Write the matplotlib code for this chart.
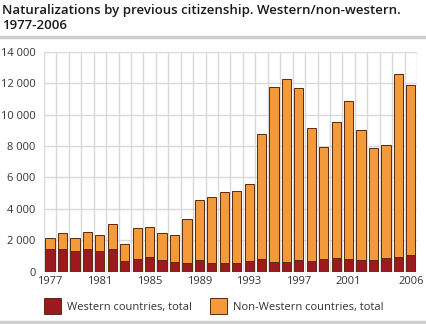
import matplotlib
matplotlib.use("Agg")
import matplotlib.pyplot as plt
from matplotlib.patches import Patch
from matplotlib.lines import Line2D
import numpy as np

years = list(range(1977, 2007))
western = [1420, 1420, 1320, 1420, 1320, 1420, 680, 790, 930, 740, 600, 570,
           720, 550, 550, 550, 680, 790, 620, 640, 740, 700, 790, 850,
           790, 720, 740, 850, 930, 1040]
total = [2120, 2440, 2160, 2550, 2360, 3030, 1740, 2760, 2820, 2460, 2360, 3330,
         4580, 4750, 5050, 5130, 5560, 8740, 11750, 12240, 11710, 9140, 7930, 9500,
         10840, 9010, 7850, 8080, 12580, 11880]
non_western = [t - w for t, w in zip(total, western)]
xtick_years = [1977, 1981, 1985, 1989, 1993, 1997, 2001, 2006]
yticks = list(range(0, 14001, 2000))
title = "Naturalizations by previous citizenship. Western/non-western.\n1977-2006"
labels = ["Western countries, total", "Non-Western countries, total"]

c_west = "#9c1a1f"
c_non = "#f39a3a"
edge = "#5a2a10"

plt.rcParams['font.family'] = ['Open Sans', 'DejaVu Sans']

fig = plt.figure(figsize=(4.26, 3.24), dpi=100)
ax = fig.add_axes([0.103, 0.1614, 0.876, 0.6787])

x = np.arange(len(years))
ax.bar(x, western, width=0.74, color=c_west, edgecolor=edge, linewidth=0.7, zorder=3)
ax.bar(x, non_western, width=0.74, bottom=western, color=c_non, edgecolor=edge,
       linewidth=0.7, zorder=3)

ax.set_xlim(-0.5, len(years) - 0.5)
ax.set_ylim(0, 14000)
ax.set_yticks(yticks)
ax.set_yticklabels([f"{v:,}".replace(",", " ") for v in yticks])
ax.set_xticks([years.index(y) for y in xtick_years])
ax.set_xticklabels([str(y) for y in xtick_years])
ax.tick_params(length=0, labelsize=8, colors="#333333", pad=3)
ax.tick_params(axis='y', pad=6)

for v in yticks:
    ax.axhline(v, color="#d9d9d9", linewidth=1, zorder=1)
for i in range(len(years) + 1):
    ax.axvline(i - 0.5, color="#d9d9d9", linewidth=1, zorder=1)
for s in ax.spines.values():
    s.set_visible(False)

fig.text(0.005, 0.988, title, fontsize=9.5, fontweight='semibold', va='top', ha='left',
         color="#1a1a1a", linespacing=1.2)
fig.add_artist(Line2D([0, 1], [1 - 37 / 324, 1 - 37 / 324], transform=fig.transFigure,
                      color="#cfcfcf", linewidth=2.5))
fig.add_artist(Line2D([0, 1], [1 - 322 / 324, 1 - 322 / 324], transform=fig.transFigure,
                      color="#cfcfcf", linewidth=2.5))

handles = [Patch(facecolor=c_west, edgecolor=edge, linewidth=0.7),
           Patch(facecolor=c_non, edgecolor=edge, linewidth=0.7)]
fig.legend(handles, labels, loc='center', bbox_to_anchor=(0.502, 1 - 306 / 324), ncol=2,
           frameon=False, fontsize=8, handlelength=1.5, handleheight=1.8,
           columnspacing=1.6, handletextpad=0.55, labelcolor="#333333")

fig.savefig("out.png", dpi=100)
